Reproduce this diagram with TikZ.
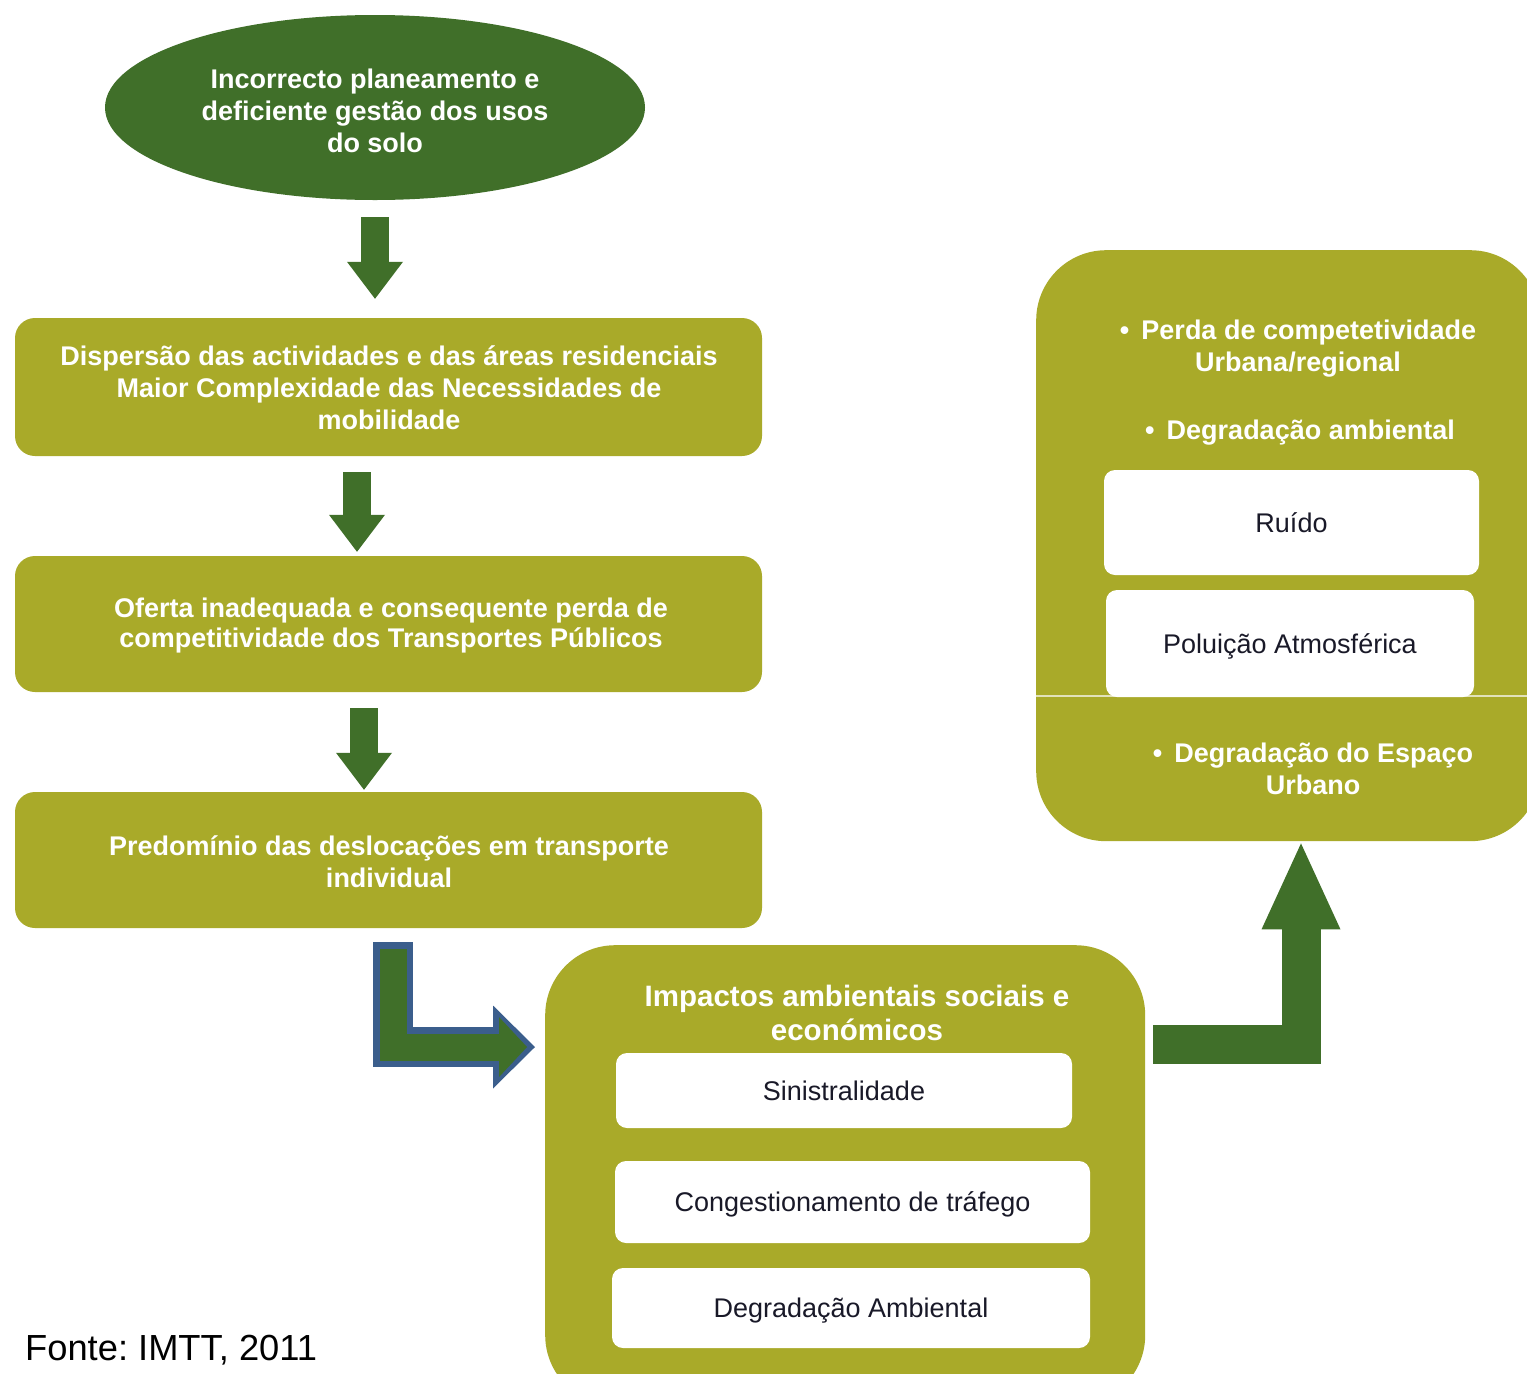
\documentclass[tikz,border=0pt]{standalone}
\usepackage{fontspec}
\setmainfont{Liberation Sans}
\usetikzlibrary{shapes.geometric,arrows.meta,calc}
\definecolor{dkgreen}{RGB}{64,111,41}
\definecolor{olive}{RGB}{169,170,41}
\definecolor{arrblue}{RGB}{59,94,140}
\definecolor{seam}{RGB}{226,226,186}
\definecolor{ink}{RGB}{25,25,40}
\frenchspacing
\begin{document}
\begin{tikzpicture}[x=1pt,y=-1pt,
  greenbox/.style={fill=olive, draw=none, rounded corners=20pt, inner sep=0pt},
  boxtext/.style={text=white, font=\bfseries\fontsize{27}{32}\selectfont, align=center, inner sep=0pt},
  whitebox/.style={fill=white, draw=none, rounded corners=11pt, text=ink, text depth=0pt,
    font=\fontsize{27}{32}\selectfont, align=center, inner sep=0pt},
  rtext/.style={text=white, font=\bfseries\fontsize{27}{32}\selectfont, align=center, inner sep=0pt},
  bigarrow/.style={dkgreen, line width=28pt, -{Triangle[width=56pt,length=37pt,line width=0pt]}}
]
\useasboundingbox (0,0) rectangle (1527,1374);
\fill[white] (0,0) rectangle (1527,1374);
\clip (0,0) rectangle (1527,1374);

% left column
\node[ellipse, fill=dkgreen, minimum width=540pt, minimum height=185pt, inner sep=0pt] (ell) at (375,107.5) {};
\node[boxtext] (ellt) at (375,111) {Incorrecto planeamento e\\deficiente gestão dos usos\\do solo};

\node[greenbox, minimum width=747pt, minimum height=138pt] (b1) at (388.5,387) {};
\node[boxtext] (b1t) at (389,387.5)
  {Dispersão das actividades e das áreas residenciais\\Maior Complexidade das Necessidades de\\mobilidade};
\node[greenbox, minimum width=747pt, minimum height=136pt] (b2) at (388.5,624) {};
\node[boxtext, font=\bfseries\fontsize{27}{30}\selectfont] (b2t) at (391,625.5)
  {Oferta inadequada e consequente perda de\\competitividade dos Transportes Públicos};
\node[greenbox, minimum width=747pt, minimum height=136pt] (b3) at (388.5,860) {};
\node[boxtext] (b3t) at (389,861.5)
  {Predomínio das deslocações em transporte\\individual};

\draw[bigarrow] ([yshift=-17pt]ell.south) -- ([yshift=19pt]ell.south |- b1.north);
\draw[bigarrow] ([shift={(-31.5pt,-16pt)}]b1.south) -- ([shift={(-31.5pt,4pt)}]b2.north);
\draw[bigarrow] ([shift={(-24.5pt,-16pt)}]b2.south) -- ([shift={(-24.5pt,2pt)}]b3.north);

% impacts box
\node[fill=olive, draw=none, rounded corners=70pt, minimum width=600pt, minimum height=460pt,
  inner sep=0pt, anchor=north west] (imp) at (545,945) {};
\node[text=white, font=\bfseries\fontsize{29.5}{34}\selectfont, align=center, inner sep=0pt]
  (impt) at (857,1013) {Impactos ambientais sociais e\\económicos};
\node[whitebox, minimum width=456pt, minimum height=75pt] (w1) at (844,1090.5) {Sinistralidade};
\node[whitebox, minimum width=475pt, minimum height=82pt] (w2) at (852.5,1202) {Congestionamento de tráfego};
\node[whitebox, minimum width=478pt, minimum height=80pt] (w3) at (851,1308) {Degradação Ambiental};

% bent outlined arrow
\draw[arrblue, line width=40pt, -{Triangle[width=83pt,length=42pt,line width=0pt]}]
  ($(b3.south)+(4.5pt,-14pt)$) |- ($(imp.north west)+(-10pt,-102pt)$);
\draw[dkgreen, line width=27pt, -{Triangle[width=60pt,length=28pt,line width=0pt]}]
  ($(b3.south)+(4.5pt,-21pt)$) |- ($(imp.north west)+(-18pt,-102pt)$);

% right box
\node[fill=olive, draw=none, rounded corners=70pt, minimum width=504pt, minimum height=591pt,
  inner sep=0pt, anchor=north west] (rbox) at (1036,250) {};
\draw[seam, line width=1.2pt] (rbox.west |- 0,696) -- (rbox.east |- 0,696);
\node[rtext] (rt1) at (1298,349) {•\hspace{0.45em}Perda de competetividade\\Urbana/regional};
\node[rtext] (rt2) at (1300,433) {•\hspace{0.45em}Degradação ambiental};
\node[whitebox, minimum width=375pt, minimum height=105pt] (wr1) at (1291.5,522.5) {Ruído};
\node[whitebox, minimum width=368pt, minimum height=107pt] (wr2) at (1290,643.5) {Poluição Atmosférica};
\node[rtext] (rt3) at (1313,768.5) {•\hspace{0.45em}Degradação do Espaço\\Urbano};

% up-bent arrow
\draw[dkgreen, line width=39pt, -{Triangle[width=79pt,length=86pt,line width=0pt]}]
  ($(imp.north east)+(8pt,-99pt)$) -| ($(rbox.south west)+(265pt,-2pt)$);

% source
\node[anchor=west, inner sep=0pt, text=black, font=\fontsize{36.3}{40}\selectfont] (src) at (25,1350)
  {Fonte: IMTT, 2011};
\end{tikzpicture}
\end{document}
